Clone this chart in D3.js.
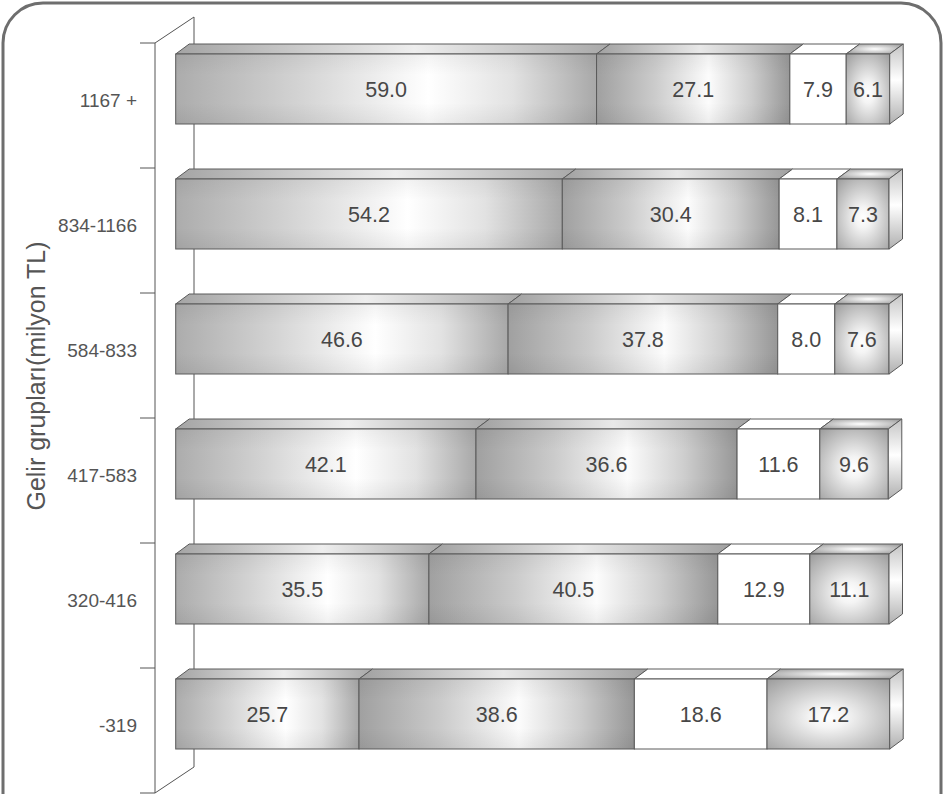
<!DOCTYPE html>
<html><head><meta charset="utf-8">
<script src="https://cdn.jsdelivr.net/npm/d3@7"></script>
<style>html,body{margin:0;padding:0;background:#fff;}svg{display:block;}</style>
</head><body>
<svg id="chart" width="946" height="794"></svg>
<script>
// ---- data ----
const categories = ["1167 +", "834-1166", "584-833", "417-583", "320-416", "-319"];
const series1 = [59.0, 54.2, 46.6, 42.1, 35.5, 25.7];
const series2 = [27.1, 30.4, 37.8, 36.6, 40.5, 38.6];
const series3 = [7.9, 8.1, 8.0, 11.6, 12.9, 18.6];
const series4 = [6.1, 7.3, 7.6, 9.6, 11.1, 17.2];
const axisTitle = "Gelir grupları(milyon TL)";

const svg = d3.select("#chart");
const W = 946, H = 794;
const font = "'Liberation Sans', Arial, Helvetica, sans-serif";
const defs = svg.append("defs");

function linGrad(id, stops, vertical) {
  const g = defs.append("linearGradient").attr("id", id)
    .attr("x1", 0).attr("y1", 0).attr("x2", vertical ? 0 : 1).attr("y2", vertical ? 1 : 0);
  stops.forEach(s => g.append("stop").attr("offset", s[0]).attr("stop-color", s[1]).attr("stop-opacity", s[2] == null ? 1 : s[2]));
}
function radGrad(id, cx, cy, r, stops) {
  const g = defs.append("radialGradient").attr("id", id).attr("cx", cx).attr("cy", cy).attr("r", r);
  stops.forEach(s => g.append("stop").attr("offset", s[0]).attr("stop-color", s[1]));
}
linGrad("g1", [[0, "#acacac"], [0.3, "#d4d4d4"], [0.6, "#ffffff"], [0.8, "#e2e2e2"], [1, "#a8a8a8"]]);
linGrad("g1t", [[0, "#a4a4a4"], [0.55, "#eeeeee"], [1, "#a8a8a8"]]);
linGrad("g2", [[0, "#a0a0a0"], [0.3, "#cbcbcb"], [0.58, "#fcfcfc"], [0.8, "#cdcdcd"], [1, "#979797"]]);
linGrad("g2t", [[0, "#a0a0a0"], [0.5, "#e8e8e8"], [1, "#a0a0a0"]]);
radGrad("g4", 0.5, 0.55, 0.75, [[0, "#ffffff"], [0.2, "#f4f4f4"], [1, "#9a9a9a"]]);
radGrad("g4t", 0.5, 0.5, 0.6, [[0, "#ffffff"], [1, "#a0a0a0"]]);
linGrad("gside", [[0, "#c4c4c4"], [0.45, "#ffffff"], [1, "#b0b0b0"]], true);
linGrad("gshade", [[0, "#000", 0.05], [0.3, "#000", 0], [0.7, "#000", 0], [1, "#000", 0.06]], true);

const fills = [
  {front: "url(#g1)", top: "url(#g1t)", shade: true},
  {front: "url(#g2)", top: "url(#g2t)", shade: true},
  {front: "#ffffff", top: "#ffffff", shade: false},
  {front: "url(#g4)", top: "url(#g4t)", shade: false}
];

// ---- frame ----
svg.append("path")
  .attr("d", (() => { const p = d3.path(); const x0 = 3, y0 = 3, x1 = 941, r = 40;
    p.moveTo(x0, H + 10); p.lineTo(x0, y0 + r); p.arcTo(x0, y0, x0 + r, y0, r);
    p.lineTo(x1 - r, y0); p.arcTo(x1, y0, x1, y0 + r, r); p.lineTo(x1, H + 10); return p.toString(); })())
  .attr("fill", "none").attr("stroke", "#6e6e6e").attr("stroke-width", 3);

// ---- scales ----
const y = d3.scaleBand().domain(categories).range([43, 793]);
const x = d3.scaleLinear().domain([0, 100]).range([175.7, 889]);
const depthX = 39, depthY = -26;     // wall depth
const bdx = 13.5, bdy = -10;         // bar depth
const barTop = 11, barH = 70;

// ---- back wall and axis ----
const axisG = svg.append("g").attr("stroke", "#555").attr("stroke-width", 1).attr("fill", "none");
const ax0 = 155, top0 = y.range()[0], bot0 = y.range()[1];
axisG.append("path").attr("d", `M${ax0},${top0}L${ax0 + depthX},${top0 + depthY}L${ax0 + depthX},${bot0 + depthY}L${ax0},${bot0}`);
axisG.append("line").attr("x1", ax0).attr("x2", ax0).attr("y1", top0).attr("y2", bot0);
const tickYs = categories.map(c => y(c)).concat([bot0]);
axisG.selectAll("line.tick").data(tickYs).join("line").attr("class", "tick")
  .attr("x1", ax0 - 15).attr("x2", ax0).attr("y1", d => d).attr("y2", d => d);

// ---- bars ----
const allSeries = [series1, series2, series3, series4];
const barsG = svg.append("g");
categories.forEach((c, i) => {
  const yt = y(c) + barTop, yb = yt + barH;
  let cum = 0;
  const segs = allSeries.map((s, k) => { const a = cum; cum += s[i]; return {k, a, b: cum, v: s[i]}; });
  const g = barsG.append("g");
  segs.forEach(sg => {
    const x0 = x(sg.a), x1 = x(sg.b);
    g.append("path")
      .attr("d", `M${x0},${yt}L${x1},${yt}L${x1 + bdx},${yt + bdy}L${x0 + bdx},${yt + bdy}Z`)
      .attr("fill", fills[sg.k].top).attr("stroke", "#5a5a5a").attr("stroke-width", 1).attr("stroke-linejoin", "round");
  });
  segs.forEach(sg => {
    const x0 = x(sg.a), x1 = x(sg.b);
    g.append("rect").attr("x", x0).attr("y", yt).attr("width", x1 - x0).attr("height", barH)
      .attr("fill", fills[sg.k].front);
    if (fills[sg.k].shade)
      g.append("rect").attr("x", x0).attr("y", yt).attr("width", x1 - x0).attr("height", barH).attr("fill", "url(#gshade)");
    g.append("rect").attr("x", x0).attr("y", yt).attr("width", x1 - x0).attr("height", barH)
      .attr("fill", "none").attr("stroke", "#5a5a5a").attr("stroke-width", 1);
  });
  const xe = x(cum);
  g.append("path")
    .attr("d", `M${xe},${yt}L${xe + bdx},${yt + bdy}L${xe + bdx},${yb + bdy}L${xe},${yb}Z`)
    .attr("fill", "url(#gside)").attr("stroke", "#5a5a5a").attr("stroke-width", 1).attr("stroke-linejoin", "round");
  segs.forEach(sg => {
    g.append("text").attr("x", (x(sg.a) + x(sg.b)) / 2).attr("y", yt + barH / 2 + 1)
      .attr("text-anchor", "middle").attr("dominant-baseline", "central")
      .attr("font-family", font).attr("font-size", 21.5).attr("fill", "#474747")
      .text(sg.v.toFixed(1));
  });
});

// ---- category labels ----
svg.append("g").selectAll("text").data(categories).join("text")
  .attr("x", 137).attr("y", d => y(d) + 57)
  .attr("text-anchor", "end").attr("dominant-baseline", "central")
  .attr("font-family", font).attr("font-size", 19).attr("fill", "#555")
  .text(d => d);

// ---- axis title ----
svg.append("text")
  .attr("transform", "translate(36,376) rotate(-90)")
  .attr("text-anchor", "middle").attr("dominant-baseline", "central")
  .attr("font-family", font).attr("font-size", 25).attr("fill", "#555")
  .text(axisTitle);
</script>
</body></html>
